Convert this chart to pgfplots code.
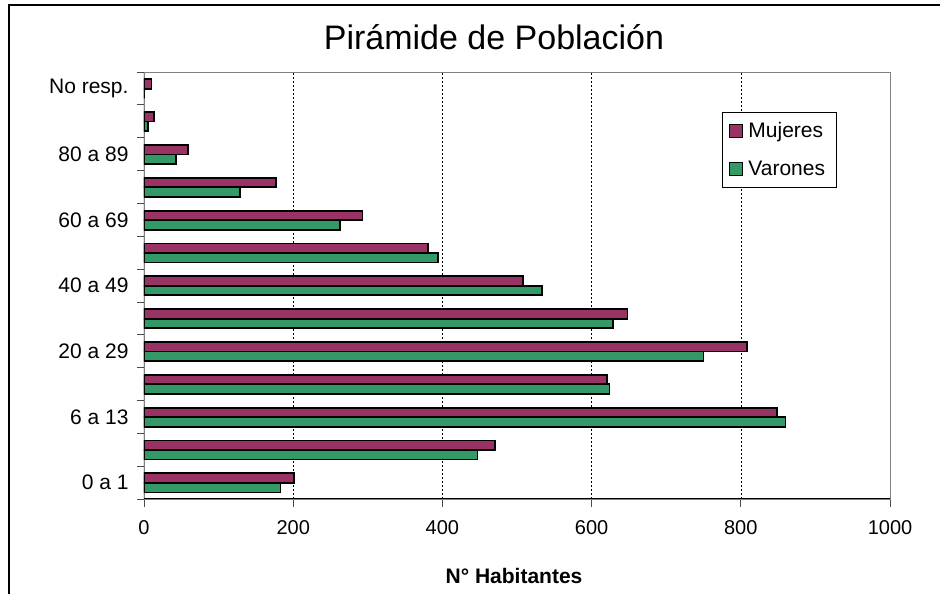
\documentclass[border=0pt]{standalone}
\usepackage{fontspec}
\setmainfont{Liberation Sans}
\usepackage{pgfplots}
\pgfplotsset{compat=1.18}
\usepackage{pgfplotstable}

\definecolor{mujer}{HTML}{993366}
\definecolor{varon}{HTML}{339966}

% grupo de edad (0 = "0 a 1" ... 12 = "No resp."), mujeres, varones
\pgfplotstableread{
y  M    V
0  201  183
1  471  447
2  849  860
3  621  624
4  808  750
5  648  629
6  508  533
7  381  394
8  293  263
9  177  129
10 59   43
11 13   5
12 10   0
}\piramide

\begin{document}
\begin{tikzpicture}
\useasboundingbox (0pt,0pt) rectangle (940pt,594pt);
% marco del grafico (se sale por la derecha y por abajo)
\draw[line width=2pt] (9pt,-20pt) -- (9pt,589pt) -- (960pt,589pt);

\node[font=\fontsize{34}{40}\selectfont] at (494pt,557pt) {Pirámide de Población};

\begin{axis}[
  at={(144pt,95pt)}, anchor=south west,
  scale only axis, width=746pt, height=427pt,
  xbar, bar width=0.29,
  xmin=0, xmax=1000, ymin=-0.5, ymax=12.5,
  xtick={0,200,...,1000},
  ytick={0,...,12},
  yticklabels={0 a 1,,6 a 13,,20 a 29,,40 a 49,,60 a 69,,80 a 89,,No resp.},
  minor ytick={-0.5,0.5,...,12.5},
  major y tick style={draw=none},
  minor tick length=7pt, major tick length=8pt,
  tick align=outside, tick pos=left,
  tick style={black!70, line width=0.8pt},
  xmajorgrids,
  major grid style={black, line width=0.6pt, dash pattern=on 2pt off 2pt},
  axis line style={gray, line width=0.8pt},
  /pgf/number format/assume math mode=true,
  /pgf/number format/1000 sep={},
  xticklabel style={font=\fontsize{20}{24}\selectfont, yshift=-10pt},
  yticklabel style={font=\fontsize{21}{25}\selectfont, xshift=-4pt},
  legend style={at={(rel axis cs:0.775,0.906)}, anchor=north west,
    draw=black, line width=0.8pt, font=\fontsize{21}{25}\selectfont,
    inner xsep=6pt, inner ysep=7pt, row sep=16pt,
    nodes={inner xsep=5.5pt, inner ysep=3pt}},
  legend cell align=left,
  legend image code/.code={\draw[#1, draw=black, line width=1.4pt] (0pt,-6.5pt) rectangle (13pt,6.5pt);},
]
\addplot[fill=mujer, draw=black, line width=1.8pt, bar shift=0.135] table[x=M, y=y] {\piramide};
\addplot[fill=varon, draw=black, line width=1.8pt, bar shift=-0.155] table[x=V, y=y] {\piramide};
\legend{Mujeres, Varones}
\draw[black, line width=1pt] (rel axis cs:0,1) -- (rel axis cs:0,0) -- (rel axis cs:1,0);
\end{axis}

\node[font=\bfseries\fontsize{21}{25}\selectfont] at (514pt,18pt) {N° Habitantes};
\end{tikzpicture}
\end{document}
